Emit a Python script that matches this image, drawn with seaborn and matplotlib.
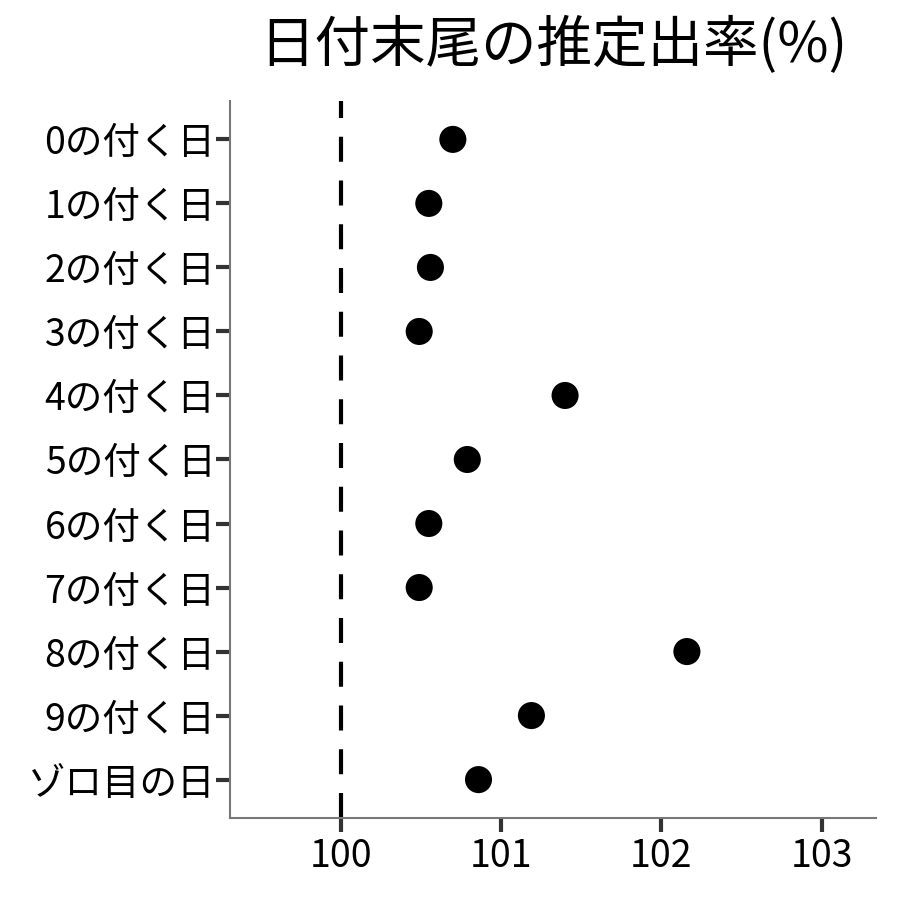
import matplotlib
matplotlib.use("Agg")
import matplotlib.pyplot as plt
import seaborn as sns
import pandas as pd

categories = ["0の付く日", "1の付く日", "2の付く日", "3の付く日", "4の付く日",
              "5の付く日", "6の付く日", "7の付く日", "8の付く日", "9の付く日", "ゾロ目の日"]
values = [100.70, 100.55, 100.56, 100.49, 101.40, 100.79, 100.55, 100.49, 102.16, 101.19, 100.86]
xticks = [100, 101, 102, 103]
title = "日付末尾の推定出率(%)"

sns.set_theme(style="white")
plt.rcParams['font.family'] = ['Noto Sans CJK JP', 'DejaVu Sans']
plt.rcParams['text.color'] = 'black'

df = pd.DataFrame({"cat": categories, "val": values})

fig = plt.figure(figsize=(9, 9), dpi=100)
ax = fig.add_axes([0.2556, 0.0911, 0.7178, 0.7967])

ax.axvline(100, color="black", lw=3, ls=(0, (6, 4.5)), zorder=1)
sns.scatterplot(data=df, x="val", y="cat", ax=ax, color="black", s=380,
                edgecolor="none", zorder=3)

ax.set_xlim(99.31, 103.34)
ax.set_ylim(len(categories) - 1 + 0.6, -0.6)
ax.set_xticks(xticks)
ax.set_xticklabels([str(t) for t in xticks])
ax.set_xlabel("")
ax.set_ylabel("")
ax.set_title(title, fontsize=40, pad=28, color="black")

for s in ["top", "right"]:
    ax.spines[s].set_visible(False)
for s in ["left", "bottom"]:
    ax.spines[s].set_color("#777777")
    ax.spines[s].set_linewidth(1.5)
ax.tick_params(axis="both", which="major", length=10, width=3, color="#333333",
               labelsize=27, labelcolor="black", pad=4, left=True, bottom=True)
ax.tick_params(axis="y", pad=0.5)

fig.savefig("out.png", dpi=100)
